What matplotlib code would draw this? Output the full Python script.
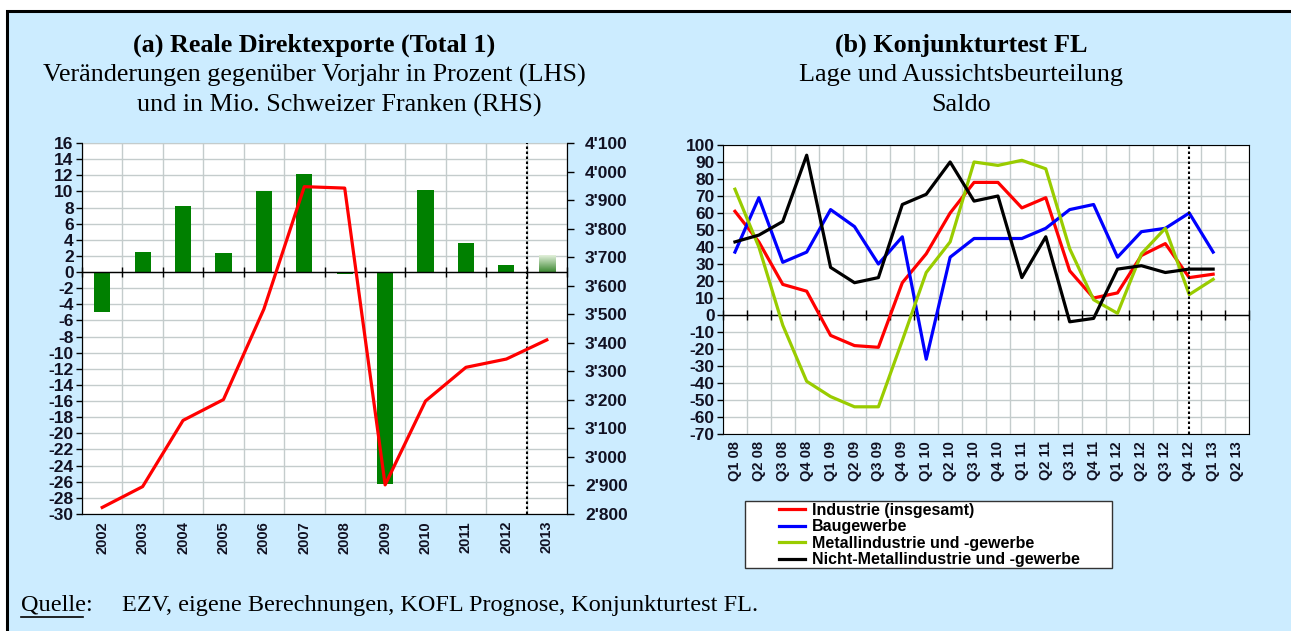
import numpy as np
import matplotlib
matplotlib.use("Agg")
import matplotlib.pyplot as plt
from matplotlib.patches import Rectangle
from matplotlib.lines import Line2D

# ---- data ---------------------------------------------------------------- #
years = ["2002", "2003", "2004", "2005", "2006", "2007",
         "2008", "2009", "2010", "2011", "2012", "2013"]
exp_growth = [-4.9, 2.5, 8.2, 2.4, 10.0, 12.1, -0.2, -26.3, 10.2, 3.6, 0.9, 2.0]
exp_level = [2823, 2896, 3128, 3201, 3518, 3947, 3942, 2902, 3196, 3314, 3343, 3410]
lhs_ticks = list(range(-30, 17, 2))
rhs_ticks = list(range(2800, 4101, 100))

quarters = ["Q1 08", "Q2 08", "Q3 08", "Q4 08", "Q1 09", "Q2 09", "Q3 09", "Q4 09",
            "Q1 10", "Q2 10", "Q3 10", "Q4 10", "Q1 11", "Q2 11", "Q3 11", "Q4 11",
            "Q1 12", "Q2 12", "Q3 12", "Q4 12", "Q1 13", "Q2 13"]
industrie = [61, 43, 18, 14, -12, -18, -19, 19, 36, 60, 78, 78, 63, 69, 26, 10,
             13, 35, 42, 22, 24]
baugewerbe = [37, 69, 31, 37, 62, 52, 30, 46, -26, 34, 45, 45, 45, 51, 62, 65,
              34, 49, 51, 60, 37]
metall = [74, 40, -6, -39, -48, -54, -54, -15, 25, 43, 90, 88, 91, 86, 39, 9,
          1, 36, 51, 12, 21]
nicht_metall = [43, 47, 55, 94, 28, 19, 22, 65, 71, 90, 67, 70, 22, 46, -4, -2,
                27, 29, 25, 27, 27]
series_b = [("Industrie (insgesamt)", industrie, "#FF0000"),
            ("Baugewerbe", baugewerbe, "#0000FF"),
            ("Metallindustrie und -gewerbe", metall, "#99CC00"),
            ("Nicht-Metallindustrie und -gewerbe", nicht_metall, "#000000")]

BG = "#CCECFF"
GRID = "#C4CCCC"
YFONT = dict(family="Liberation Sans", weight="bold", size=12.5)
XFONT = dict(family="Liberation Sans", weight="bold", size=10.5)
W, H = 1291, 631

fig = plt.figure(figsize=(W / 100, H / 100), dpi=100, facecolor="white")
fig.patches.append(Rectangle((7 / W, -0.1), 1.2, 1.1 - 11 / H, transform=fig.transFigure,
                             facecolor=BG, edgecolor="black", lw=2.2, zorder=-10))


def frame(x0, y0, x1, y1):
    return [x0 / W, 1 - y1 / H, (x1 - x0) / W, (y1 - y0) / H]


def style_axis(ax, n):
    ax.set_facecolor("white")
    ax.set_xlim(-0.5, n - 0.5)
    for b in np.arange(n + 1) - 0.5:
        ax.axvline(b, color=GRID, lw=1.0, zorder=0)
    ax.axhline(0, color="black", lw=1.0, zorder=3)
    ax.plot(np.arange(n + 1) - 0.5, np.zeros(n + 1), ls="none", marker="|",
            color="black", ms=7, mew=1.0, zorder=3, clip_on=False)
    ax.set_xticks(range(n))
    ax.tick_params(axis="x", length=0, pad=5)
    ax.tick_params(axis="y", length=4, width=1, direction="out", pad=2)
    ax.grid(axis="y", color=GRID, lw=1.0, zorder=0)
    ax.set_axisbelow(True)
    for lab in ax.get_xticklabels():
        lab.set_fontproperties(XFONT)
        lab.set_color("#111122")
    for lab in ax.get_yticklabels():
        lab.set_fontproperties(YFONT)
        lab.set_color("#111122")


# ---- (a) exports --------------------------------------------------------- #
ax1 = fig.add_axes(frame(82, 143, 567, 514))
x = np.arange(len(years))
ax1.set_ylim(-30, 16)
ax1.set_yticks(lhs_ticks)
ax1.set_yticklabels([str(v) for v in lhs_ticks])
ax1.set_xticks(x)
ax1.set_xticklabels(years, rotation=90)
ax1.bar(x[:-1], exp_growth[:-1], width=0.4, color="#008000", zorder=2)
# forecast bar with gradient
grad = np.linspace(0, 1, 50).reshape(-1, 1)
cm = matplotlib.colors.LinearSegmentedColormap.from_list("g", ["#3F8A35", "#E2F0DA"])
ax1.imshow(grad, cmap=cm, aspect="auto", origin="lower", zorder=2,
           extent=(x[-1] - 0.2, x[-1] + 0.2, 0, exp_growth[-1]))
ax1.set_xlim(-0.5, len(years) - 0.5)
ax1.set_ylim(-30, 16)
style_axis(ax1, len(years))
ax1.axvline(len(years) - 1.5, color="black", ls=(0, (1.2, 1.2)), lw=1.5, zorder=4)
for s in ["left", "bottom", "right"]:
    ax1.spines[s].set_color("black")
ax1.spines["top"].set_color(GRID)

ax2 = ax1.twinx()
ax2.set_ylim(2800, 4100)
ax2.set_yticks(rhs_ticks)
ax2.set_yticklabels([f"{v // 1000}'{v % 1000:03d}" for v in rhs_ticks])
ax2.plot(x, exp_level, color="#FF0000", lw=2.3, zorder=5)
ax2.tick_params(axis="y", length=5, width=1, direction="out", pad=8)
for lab in ax2.get_yticklabels():
    lab.set_fontproperties(YFONT)
    lab.set_color("#111122")
ax2.spines["top"].set_visible(False)

# ---- (b) Konjunkturtest -------------------------------------------------- #
ax3 = fig.add_axes(frame(723, 145, 1249, 434))
ax3.set_ylim(-70, 100)
ax3.set_yticks(range(-70, 101, 10))
ax3.set_yticklabels([str(v) for v in range(-70, 101, 10)])
ax3.set_xticks(range(len(quarters)))
ax3.set_xticklabels(quarters, rotation=90)
for name, vals, col in series_b:
    ax3.plot(range(len(vals)), vals, color=col, lw=2.3, label=name, zorder=4)
style_axis(ax3, len(quarters))
ax3.axvline(19, color="black", ls=(0, (1.2, 1.2)), lw=1.5, zorder=5)
for s in ax3.spines.values():
    s.set_color("black")

# legend: box drawn separately so the entries can sit indented like the original
fig.patches.append(Rectangle((745 / W, 1 - 568 / H), (1112 - 745) / W, 67 / H,
                             transform=fig.transFigure, facecolor="white",
                             edgecolor="#333333", lw=1.0, zorder=1))
handles = [Line2D([], [], color=c, lw=2.3) for _, _, c in series_b]
leg = fig.legend(handles, [n for n, _, _ in series_b], loc="upper left",
                 bbox_to_anchor=(777 / W, 1 - 501 / H), frameon=False,
                 prop=dict(family="Liberation Sans", weight="bold", size=11.5),
                 handlelength=1.65, handletextpad=0.45, labelspacing=0.1,
                 borderpad=0.1, borderaxespad=0)
leg.set_zorder(2)

# ---- titles & footer ----------------------------------------------------- #
serif = "Liberation Serif"
TS = 18.8
fig.text(314 / W, 1 - 45 / H, "(a) Reale Direktexporte (Total 1)", ha="center",
         va="center", family=serif, weight="bold", size=TS)
fig.text(314 / W, 1 - 75 / H, "Veränderungen gegenüber Vorjahr in Prozent (LHS)",
         ha="center", va="center", family=serif, size=TS)
fig.text(339 / W, 1 - 105 / H, "und in Mio. Schweizer Franken (RHS)",
         ha="center", va="center", family=serif, size=TS)
fig.text(961 / W, 1 - 45 / H, "(b) Konjunkturtest FL", ha="center", va="center",
         family=serif, weight="bold", size=TS)
fig.text(961 / W, 1 - 75 / H, "Lage und Aussichtsbeurteilung", ha="center",
         va="center", family=serif, size=TS)
fig.text(961 / W, 1 - 105 / H, "Saldo", ha="center", va="center", family=serif,
         size=TS)
fig.text(21 / W, 1 - 605 / H, "Quelle:", ha="left", va="center", family=serif,
         size=17.5)
fig.add_artist(Line2D([21 / W, 83 / W], [1 - 617 / H, 1 - 617 / H], color="black",
                      lw=1.2, transform=fig.transFigure))
fig.text(122 / W, 1 - 605 / H,
         "EZV, eigene Berechnungen, KOFL Prognose, Konjunkturtest FL.",
         ha="left", va="center", family=serif, size=17.5)

fig.savefig("out.png", dpi=100, facecolor=fig.get_facecolor())
